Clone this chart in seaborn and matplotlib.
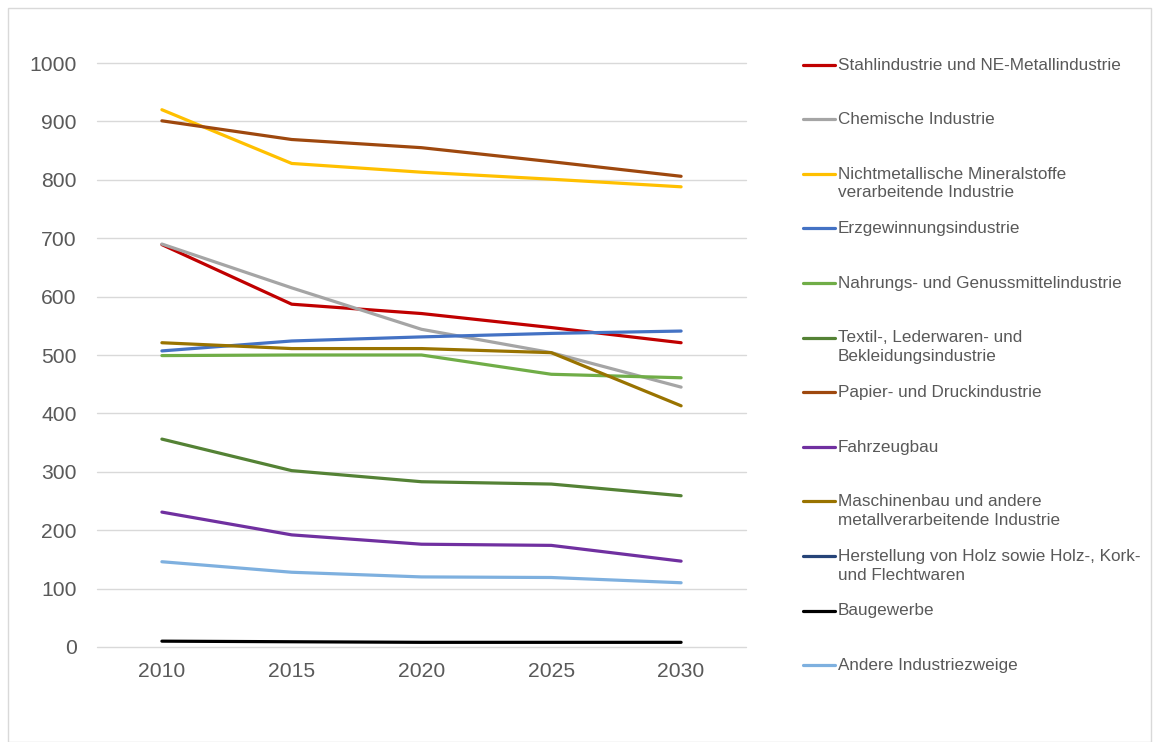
import numpy as np
import pandas as pd
import matplotlib.pyplot as plt
import seaborn as sns
from matplotlib.lines import Line2D
from matplotlib.patches import Rectangle

years = [2010, 2015, 2020, 2025, 2030]

series_names = [
    "Stahlindustrie und NE-Metallindustrie",
    "Chemische Industrie",
    "Nichtmetallische Mineralstoffe\nverarbeitende Industrie",
    "Erzgewinnungsindustrie",
    "Nahrungs- und Genussmittelindustrie",
    "Textil-, Lederwaren- und\nBekleidungsindustrie",
    "Papier- und Druckindustrie",
    "Fahrzeugbau",
    "Maschinenbau und andere\nmetallverarbeitende Industrie",
    "Herstellung von Holz sowie Holz-, Kork-\nund Flechtwaren",
    "Baugewerbe",
    "Andere Industriezweige",
]

stahl = [689, 587, 571, 547, 521]
chemie = [690, 615, 544, 504, 445]
mineral = [920, 828, 813, 801, 788]
erz = [507, 524, 531, 537, 541]
nahrung = [499, 500, 500, 467, 461]
textil = [356, 302, 283, 279, 259]
papier = [901, 869, 855, 831, 806]
fahrzeug = [231, 192, 176, 174, 147]
maschinen = [521, 511, 511, 504, 413]
holz = [np.nan] * 5  # no visible line in the chart
bau = [10, 9, 8, 8, 8]
andere = [146, 128, 120, 119, 110]

values = [stahl, chemie, mineral, erz, nahrung, textil, papier,
          fahrzeug, maschinen, holz, bau, andere]

colors = ["#C00000", "#A5A5A5", "#FFC000", "#4472C4", "#70AD47", "#548235",
          "#9E480E", "#7030A0", "#997300", "#264478", "#000000", "#7EB0DF"]

rows = []
for name, vals in zip(series_names, values):
    for yr, v in zip(years, vals):
        rows.append({"Jahr": yr, "Wert": v, "Sektor": name})
df = pd.DataFrame(rows).dropna()

sns.set_theme(style="white")
plt.rcParams['font.family'] = ['Liberation Sans', 'DejaVu Sans']

W, H = 1154, 742
fig = plt.figure(figsize=(W / 100, H / 100), dpi=100)
ax = fig.add_axes([97 / W, 1 - 647 / H, (746 - 97) / W, (647 - 63) / H])

sns.lineplot(data=df, x="Jahr", y="Wert", hue="Sektor", hue_order=series_names,
             palette=dict(zip(series_names, colors)), linewidth=2.3,
             legend=False, ax=ax)

ax.set_xlim(2007.5, 2032.5)
ax.set_ylim(0, 1000)
ax.set_xticks(years)
ax.set_yticks(range(0, 1001, 100))
ax.set_xlabel("")
ax.set_ylabel("")
ax.yaxis.grid(True, color="#D9D9D9", linewidth=1)
for gl in ax.get_ygridlines():
    gl.set_clip_on(False)
ax.set_axisbelow(True)
for s in ax.spines.values():
    s.set_visible(False)
ax.tick_params(axis="both", length=0, labelsize=15.2, labelcolor="#595959")
ax.tick_params(axis="y", pad=14.5)
ax.tick_params(axis="x", pad=11)

# legend drawn by hand to match the spacing of the original
x0, x1, xt = 803 / W, 835 / W, 838 / W
for i, (name, col) in enumerate(zip(series_names, colors)):
    y = 1 - (64.5 + i * 54.6) / H
    fig.add_artist(Line2D([x0, x1], [y, y], color=col, linewidth=2.3,
                          transform=fig.transFigure))
    fig.text(xt, y + 7 / H, name, fontsize=12.3, color="#595959",
             va="top", ha="left", linespacing=1.31)

fig.add_artist(Rectangle((8 / W, 0), (1151 - 8) / W, 1 - 8 / H, fill=False,
                         edgecolor="#D9D9D9", linewidth=1,
                         transform=fig.transFigure))

plt.savefig("out.png", dpi=100)
